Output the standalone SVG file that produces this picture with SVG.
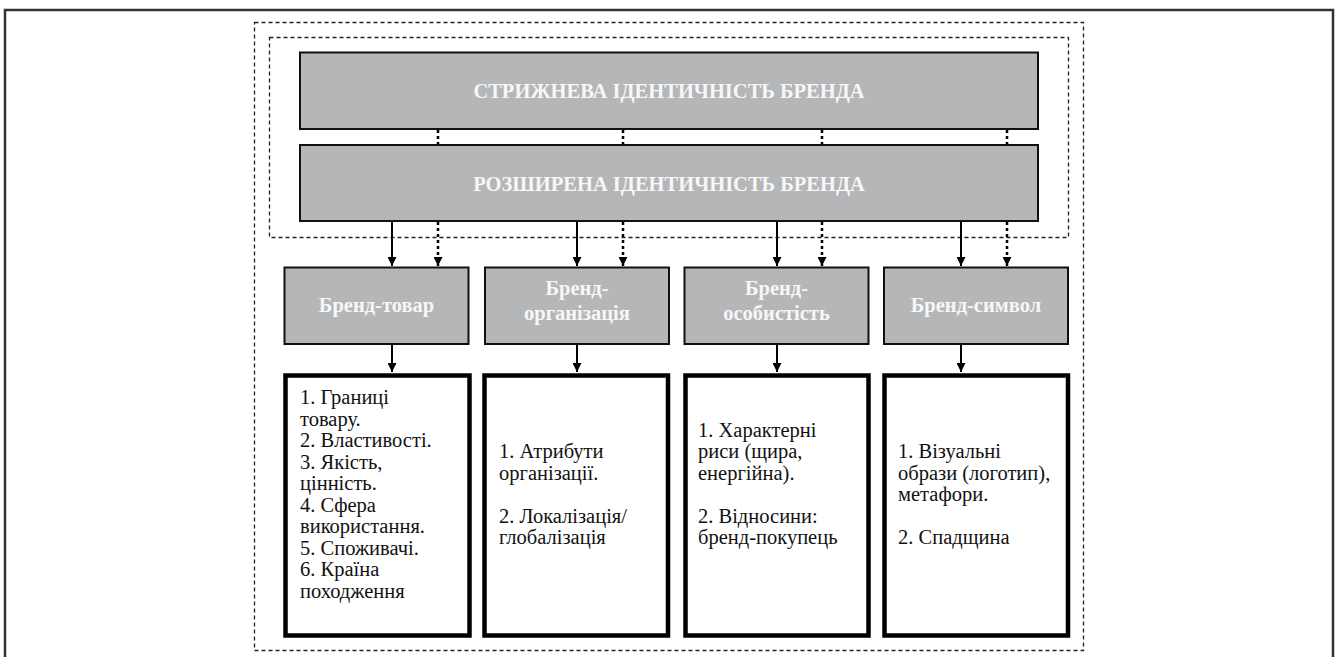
<svg xmlns="http://www.w3.org/2000/svg" width="1336" height="657" viewBox="0 0 1336 657">
<defs>
<style>
.frame{fill:none;stroke:#333;stroke-width:2.5}
.dash{fill:none;stroke:#222;stroke-width:1.3;stroke-dasharray:4 3}
.gray{fill:#b5b6b8;stroke:#111;stroke-width:2}
.det{fill:#fff;stroke:#000;stroke-width:4.5}
.hdr{font-weight:bold;fill:#f7f7f7;text-anchor:middle}
.txt{font-size:20.5px;fill:#111}
.sol{stroke:#000;stroke-width:2;fill:none}
.dot{stroke:#000;stroke-width:2.5;stroke-dasharray:3 3;fill:none}
</style>
<marker id="ah" viewBox="0 0 10 10" refX="10" refY="5" markerWidth="10" markerHeight="9" markerUnits="userSpaceOnUse" orient="auto">
<path d="M0,0 L10,5 L0,10 Z" fill="#000"/>
</marker>
</defs>
<rect width="1336" height="657" fill="#fff"/>
<rect class="frame" x="5" y="10" width="1328" height="660"/>
<rect class="dash" x="254.5" y="22.5" width="829" height="628"/>
<rect class="dash" x="269.5" y="37.5" width="799" height="200"/>

<g id="connectors">
<line class="dot" x1="438" y1="130" x2="438" y2="144"/>
<line class="dot" x1="623" y1="130" x2="623" y2="144"/>
<line class="dot" x1="822" y1="130" x2="822" y2="144"/>
<line class="dot" x1="1007" y1="130" x2="1007" y2="144"/>

<line class="sol" x1="392" y1="222" x2="392" y2="266" marker-end="url(#ah)"/>
<line class="dot" x1="438" y1="222" x2="438" y2="266" marker-end="url(#ah)"/>
<line class="sol" x1="577" y1="222" x2="577" y2="266" marker-end="url(#ah)"/>
<line class="dot" x1="623" y1="222" x2="623" y2="266" marker-end="url(#ah)"/>
<line class="sol" x1="777" y1="222" x2="777" y2="266" marker-end="url(#ah)"/>
<line class="dot" x1="822" y1="222" x2="822" y2="266" marker-end="url(#ah)"/>
<line class="sol" x1="961" y1="222" x2="961" y2="266" marker-end="url(#ah)"/>
<line class="dot" x1="1007" y1="222" x2="1007" y2="266" marker-end="url(#ah)"/>

<line class="sol" x1="392" y1="345" x2="392" y2="372" marker-end="url(#ah)"/>
<line class="sol" x1="577" y1="345" x2="577" y2="372" marker-end="url(#ah)"/>
<line class="sol" x1="777" y1="345" x2="777" y2="372" marker-end="url(#ah)"/>
<line class="sol" x1="961" y1="345" x2="961" y2="372" marker-end="url(#ah)"/>
</g>

<g font-family="Liberation Serif, Times New Roman, DejaVu Serif, serif">
<g id="core">
<rect class="gray" x="300" y="52.5" width="738" height="76.5"/>
<text class="hdr" x="669" y="97.5" font-size="20.5">СТРИЖНЕВА ІДЕНТИЧНІСТЬ БРЕНДА</text>
</g>
<g id="extended">
<rect class="gray" x="300" y="145" width="738" height="76"/>
<text class="hdr" x="669" y="190.5" font-size="20.5">РОЗШИРЕНА ІДЕНТИЧНІСТЬ БРЕНДА</text>
</g>

<g id="cat-product">
<rect class="gray" x="284.5" y="267.5" width="184" height="76.5"/>
<text class="hdr" x="376.5" y="312" font-size="20.5">Бренд-товар</text>
</g>
<g id="cat-org">
<rect class="gray" x="485" y="267.5" width="184" height="76.5"/>
<text class="hdr" x="577" y="295" font-size="20.5">Бренд-</text>
<text class="hdr" x="577" y="320" font-size="20.5">організація</text>
</g>
<g id="cat-person">
<rect class="gray" x="684.5" y="267.5" width="184" height="76.5"/>
<text class="hdr" x="776.5" y="295" font-size="20.5">Бренд-</text>
<text class="hdr" x="776.5" y="320" font-size="20.5">особистість</text>
</g>
<g id="cat-symbol">
<rect class="gray" x="884" y="267.5" width="184" height="76.5"/>
<text class="hdr" x="976" y="312" font-size="20.5">Бренд-символ</text>
</g>

<g id="det-product">
<rect class="det" x="285.5" y="375.5" width="184" height="260"/>
<text class="txt">
<tspan x="300" y="404">1. Границі</tspan>
<tspan x="300" y="425.5">товару.</tspan>
<tspan x="300" y="447">2. Властивості.</tspan>
<tspan x="300" y="468.5">3. Якість,</tspan>
<tspan x="300" y="490">цінність.</tspan>
<tspan x="300" y="511.5">4. Сфера</tspan>
<tspan x="300" y="533">використання.</tspan>
<tspan x="300" y="554.5">5. Споживачі.</tspan>
<tspan x="300" y="576">6. Країна</tspan>
<tspan x="300" y="597.5">походження</tspan>
</text>
</g>
<g id="det-org">
<rect class="det" x="484.5" y="375.5" width="183.5" height="260"/>
<text class="txt">
<tspan x="499" y="458">1. Атрибути</tspan>
<tspan x="499" y="479.5">організації.</tspan>
<tspan x="499" y="522.5">2. Локалізація/</tspan>
<tspan x="499" y="544">глобалізація</tspan>
</text>
</g>
<g id="det-person">
<rect class="det" x="685.5" y="375.5" width="183" height="260"/>
<text class="txt">
<tspan x="698" y="436.5">1. Характерні</tspan>
<tspan x="698" y="458">риси (щира,</tspan>
<tspan x="698" y="479.5">енергійна).</tspan>
<tspan x="698" y="522.5">2. Відносини:</tspan>
<tspan x="698" y="544">бренд-покупець</tspan>
</text>
</g>
<g id="det-symbol">
<rect class="det" x="884.5" y="375.5" width="183.5" height="260"/>
<text class="txt">
<tspan x="898" y="458">1. Візуальні</tspan>
<tspan x="898" y="479.5">образи (логотип),</tspan>
<tspan x="898" y="501">метафори.</tspan>
<tspan x="898" y="544">2. Спадщина</tspan>
</text>
</g>
</g>
</svg>
